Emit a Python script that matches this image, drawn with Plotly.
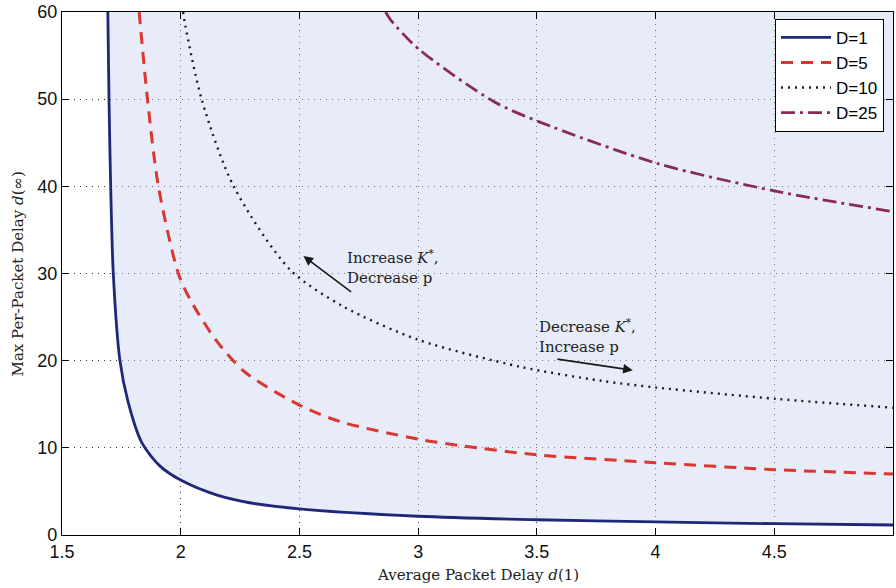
import plotly.graph_objects as go

# ---- data ----
d1_x = [1.693, 1.698, 1.705, 1.716, 1.744, 1.778, 1.836, 1.913, 2.0, 2.15, 2.29, 2.5, 3.0, 3.5, 4.0, 4.5, 5.0]
d1_y = [60, 50, 40, 30, 20, 15.3, 10.6, 7.9, 6.3, 4.6, 3.7, 3.0, 2.15, 1.75, 1.5, 1.3, 1.15]

d5_x = [1.825, 1.86, 1.906, 1.99, 2.04, 2.15, 2.27, 2.5, 2.673, 3.0, 3.18, 3.5, 4.0, 4.5, 5.0]
d5_y = [60, 50, 40, 30, 27, 22.3, 18.7, 14.9, 13.0, 11.0, 10.25, 9.2, 8.3, 7.5, 7.0]

d10_x = [2.01, 2.019, 2.089, 2.223, 2.462, 2.686, 3.0, 3.43, 3.77, 4.01, 4.515, 5.0]
d10_y = [60, 58.5, 49.9, 40, 30.4, 26.2, 22.4, 19.3, 17.7, 16.9, 15.6, 14.6]

d25_x = [2.863, 2.884, 3.0, 3.32, 3.51, 4.01, 4.515, 5.0]
d25_y = [60, 59.1, 55.8, 49.7, 47.4, 42.6, 39.4, 37.1]

top_x = [1.693, 5.0]
top_y = [60, 60]

x_ticks = [1.5, 2, 2.5, 3, 3.5, 4, 4.5, 5]
x_tick_text = ["1.5", "2", "2.5", "3", "3.5", "4", "4.5", "5"]
y_ticks = [0, 10, 20, 30, 40, 50, 60]

series_names = ["D=1", "D=5", "D=10", "D=25"]

# ---- figure ----
fig = go.Figure()

# shaded feasible region (above/right of D=1), translucent so the grid shows through
fig.add_trace(go.Scatter(x=top_x, y=top_y, mode="lines", line=dict(width=0),
                         showlegend=False, hoverinfo="skip"))
fig.add_trace(go.Scatter(x=d1_x, y=d1_y, mode="lines",
                         line=dict(width=0, shape="spline", smoothing=0.8),
                         fill="tonexty", fillcolor="rgba(200,210,238,0.42)",
                         showlegend=False, hoverinfo="skip"))

fig.add_trace(go.Scatter(x=d1_x, y=d1_y, mode="lines", name=series_names[0],
                         line=dict(color="#1f2878", width=2.8, shape="spline", smoothing=0.8)))
fig.add_trace(go.Scatter(x=d5_x, y=d5_y, mode="lines", name=series_names[1],
                         line=dict(color="#d9372f", width=3, dash="12px,8px", shape="spline", smoothing=0.8)))
fig.add_trace(go.Scatter(x=d10_x, y=d10_y, mode="lines", name=series_names[2],
                         line=dict(color="#1a1a2a", width=2.4, dash="2px,5px", shape="spline", smoothing=0.8)))
fig.add_trace(go.Scatter(x=d25_x, y=d25_y, mode="lines", name=series_names[3],
                         line=dict(color="#8a2a57", width=2.8, dash="14px,5px,3px,5px", shape="spline", smoothing=0.8)))

serif = "DejaVu Serif"
sans = "Liberation Sans, Arial, sans-serif"

annotations = [
    dict(x=2.517, y=32.0, ax=2.724, ay=27.76, xref="x", yref="y", axref="x", ayref="y",
         text="", showarrow=True, arrowhead=2, arrowsize=1.2, arrowwidth=1.6, arrowcolor="#1a1a1a"),
    dict(x=3.904, y=18.9, ax=3.58, ay=20.2, xref="x", yref="y", axref="x", ayref="y",
         text="", showarrow=True, arrowhead=2, arrowsize=1.2, arrowwidth=1.6, arrowcolor="#1a1a1a"),
    dict(x=2.69, y=30.8, xref="x", yref="y", xanchor="left", yanchor="middle", showarrow=False,
         align="left", text="Increase <i>K</i><sup>*</sup>,<br>Decrease p",
         font=dict(family=serif, size=15, color="#222")),
    dict(x=3.50, y=22.8, xref="x", yref="y", xanchor="left", yanchor="middle", showarrow=False,
         align="left", text="Decrease <i>K</i><sup>*</sup>,<br>Increase p",
         font=dict(family=serif, size=15, color="#222")),
    dict(x=0.5, y=-0.0765, xref="paper", yref="paper", xanchor="center", yanchor="middle",
         showarrow=False, text="Average Packet Delay <i>d</i>(1)",
         font=dict(family=serif, size=15, color="#222")),
    dict(x=-0.053, y=0.5, xref="paper", yref="paper", xanchor="center", yanchor="middle",
         showarrow=False, textangle=-90, text="Max Per-Packet Delay <i>d</i>(∞)",
         font=dict(family=serif, size=15, color="#222")),
]

fig.update_layout(
    width=896, height=588,
    margin=dict(l=62, r=3, t=12, b=53),
    paper_bgcolor="white", plot_bgcolor="white",
    showlegend=True,
    legend=dict(x=0.858, y=0.987, xanchor="left", yanchor="top", traceorder="normal",
                bgcolor="white", bordercolor="black", borderwidth=1,
                font=dict(family=sans, size=17, color="black"),
                tracegroupgap=0, itemwidth=50),
    annotations=annotations,
)

axis_common = dict(showline=True, linecolor="black", linewidth=1.3, mirror="ticks",
                   ticks="inside", ticklen=7, tickcolor="black",
                   showgrid=True, gridcolor="#333", griddash="1px,5px", gridwidth=1.2,
                   zeroline=False, tickfont=dict(family=sans, size=18, color="#111"))
fig.update_xaxes(range=[1.5, 5], tickvals=x_ticks, ticktext=x_tick_text, **axis_common)
fig.update_yaxes(range=[0, 60], tickvals=y_ticks, **axis_common)

fig.write_html("out.html")
